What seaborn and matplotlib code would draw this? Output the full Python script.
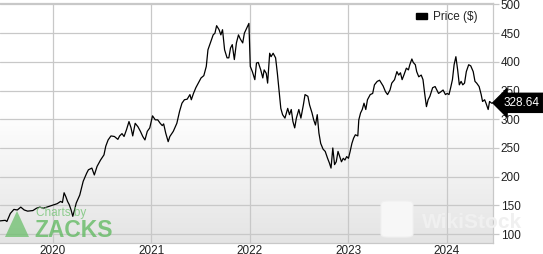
import numpy as np
import pandas as pd
import matplotlib
matplotlib.use("Agg")
import matplotlib.pyplot as plt
import matplotlib.transforms as mtransforms
from matplotlib.patches import Rectangle, Polygon, FancyBboxPatch
from matplotlib.colors import LinearSegmentedColormap
import seaborn as sns

# ---- data (decimal years, price in $) ----
years = [
    2019.465, 2019.518, 2019.535, 2019.570, 2019.606, 2019.641, 2019.676, 2019.711,
    2019.746, 2019.799, 2019.835, 2019.870, 2019.905, 2019.940, 2019.975, 2020.011,
    2020.046, 2020.081, 2020.099, 2020.116, 2020.134, 2020.151, 2020.169, 2020.187,
    2020.204, 2020.222, 2020.239, 2020.275, 2020.310, 2020.345, 2020.363, 2020.398,
    2020.423, 2020.451, 2020.486, 2020.521, 2020.539, 2020.563, 2020.592, 2020.627,
    2020.662, 2020.680, 2020.704, 2020.725, 2020.750, 2020.775, 2020.796, 2020.813,
    2020.838, 2020.866, 2020.891, 2020.915, 2020.937, 2020.961, 2020.986, 2021.014,
    2021.042, 2021.067, 2021.092, 2021.113, 2021.127, 2021.148, 2021.173, 2021.190,
    2021.225, 2021.261, 2021.289, 2021.313, 2021.338, 2021.366, 2021.394, 2021.408,
    2021.430, 2021.454, 2021.479, 2021.507, 2021.535, 2021.560, 2021.577, 2021.602,
    2021.630, 2021.648, 2021.665, 2021.690, 2021.708, 2021.725, 2021.746, 2021.771,
    2021.789, 2021.806, 2021.824, 2021.845, 2021.866, 2021.887, 2021.905, 2021.930,
    2021.947, 2021.972, 2021.993, 2022.007, 2022.028, 2022.053, 2022.070, 2022.088,
    2022.113, 2022.134, 2022.148, 2022.169, 2022.183, 2022.204, 2022.218, 2022.239,
    2022.264, 2022.282, 2022.299, 2022.317, 2022.335, 2022.359, 2022.387, 2022.405,
    2022.423, 2022.440, 2022.458, 2022.475, 2022.500, 2022.521, 2022.546, 2022.563,
    2022.592, 2022.609, 2022.634, 2022.651, 2022.669, 2022.687, 2022.704, 2022.722,
    2022.746, 2022.768, 2022.792, 2022.810, 2022.827, 2022.845, 2022.863, 2022.880,
    2022.898, 2022.915, 2022.933, 2022.951, 2022.968, 2022.986, 2023.004, 2023.021,
    2023.039, 2023.056, 2023.074, 2023.099, 2023.109, 2023.127, 2023.144, 2023.162,
    2023.180, 2023.197, 2023.225, 2023.250, 2023.268, 2023.296, 2023.320, 2023.338,
    2023.356, 2023.380, 2023.401, 2023.426, 2023.444, 2023.472, 2023.496, 2023.514,
    2023.532, 2023.549, 2023.567, 2023.592, 2023.613, 2023.627, 2023.648, 2023.662,
    2023.683, 2023.697, 2023.718, 2023.743, 2023.761, 2023.778, 2023.796, 2023.813,
    2023.831, 2023.859, 2023.884, 2023.901, 2023.919, 2023.944, 2023.965, 2023.989,
    2024.007, 2024.025, 2024.042, 2024.060, 2024.077, 2024.095, 2024.113, 2024.130,
    2024.148, 2024.165, 2024.183, 2024.201, 2024.225, 2024.246, 2024.271, 2024.289,
    2024.306, 2024.331, 2024.352, 2024.366, 2024.387, 2024.401, 2024.423, 2024.437,
    2024.458, 2024.472,
]
prices = [
    123, 124, 122, 136, 143, 142, 147, 142,
    140, 141, 145, 147, 145, 147, 149, 151,
    153, 157, 155, 172, 165, 157, 151, 142,
    131, 142, 154, 168, 192, 206, 212, 215,
    203, 218, 229, 238, 253, 264, 271, 270,
    265, 271, 275, 270, 282, 296, 285, 271,
    293, 287, 279, 270, 264, 279, 285, 306,
    299, 299, 293, 289, 292, 276, 261, 270,
    279, 293, 314, 328, 334, 335, 343, 334,
    345, 355, 363, 372, 376, 392, 421, 433,
    447, 450, 463, 456, 447, 456, 421, 407,
    407, 424, 430, 404, 433, 447, 440, 433,
    450, 459, 467, 392, 383, 369, 398, 399,
    386, 372, 386, 380, 363, 415, 409, 415,
    407, 380, 351, 319, 308, 302, 319, 308,
    317, 296, 285, 302, 317, 302, 325, 343,
    340, 325, 311, 299, 290, 308, 276, 258,
    248, 244, 232, 224, 215, 250, 221, 226,
    244, 235, 226, 232, 229, 235, 232, 244,
    258, 267, 273, 271, 299, 311, 317, 328,
    317, 334, 343, 345, 360, 366, 368, 363,
    358, 348, 343, 351, 363, 369, 383, 377,
    381, 369, 377, 389, 386, 395, 405, 399,
    395, 383, 374, 377, 369, 345, 322, 334,
    340, 355, 357, 351, 345, 348, 351, 343,
    345, 343, 355, 369, 395, 409, 386, 360,
    366, 360, 363, 383, 395, 393, 383, 366,
    363, 357, 343, 331, 334, 328, 317, 331,
    328, 328.64,
]
last_price = 328.64
year_ticks = [2020, 2021, 2022, 2023, 2024]
price_ticks = [100, 150, 200, 250, 300, 350, 400, 450, 500]
series_name = "Price ($)"

df = pd.DataFrame({"year": years, "price": prices})

sns.set_style("white")
plt.rcParams["font.family"] = ["Liberation Sans", "DejaVu Sans"]

W, H = 543, 254
fig = plt.figure(figsize=(W / 100, H / 100), dpi=100)
ax = fig.add_axes([0.0, 1 - 243 / H, 493 / W, (243 - 3.3) / H])

# gradient background
grad = np.linspace(0, 1, 256).reshape(-1, 1)
cmap = LinearSegmentedColormap.from_list("bg", [(0, "#e4e4e4"), (0.55, "#ffffff"), (1, "#ffffff")])
ax.imshow(grad, aspect="auto", cmap=cmap, extent=[0, 1, 1, 0],
          transform=ax.transAxes, zorder=0)

grid_c = "#c8c8c8"
sns.lineplot(data=df, x="year", y="price", ax=ax, color="black", linewidth=0.9,
             zorder=3, legend=False)

ax.set_xlim(2019.465, 2024.472)
ax.set_ylim(84.5, 502)
ax.set_xticks(year_ticks)
ax.set_xticklabels([str(y) for y in year_ticks])
ax.set_yticks(price_ticks)
ax.yaxis.tick_right()
ax.grid(True, color=grid_c, linewidth=0.9, zorder=1)
ax.set_axisbelow(True)
ax.set_xlabel("")
ax.set_ylabel("")
for s in ax.spines.values():
    s.set_color(grid_c)
    s.set_linewidth(0.9)
ax.spines["left"].set_visible(False)
ax.tick_params(axis="y", direction="out", length=4, width=0.9, color=grid_c,
               pad=1.5, labelsize=8.5, labelcolor="#222222")
ax.tick_params(axis="x", length=0, pad=1.5, labelsize=8.5, labelcolor="#222222")

# legend
handle = Rectangle((0, 0), 1, 1, fc="black", ec="black")
ax.legend([handle], [series_name], loc="upper right", frameon=False,
          fontsize=8.5, handlelength=1.0, handleheight=0.35,
          handletextpad=0.5, borderaxespad=0.25,
          bbox_to_anchor=(0.985, 1.0))

# last price tag
trans = mtransforms.blended_transform_factory(ax.transAxes, ax.transData)
ax.text(1.021, last_price, f"{last_price:.2f}", transform=trans, ha="left",
        va="center", color="white", fontsize=8.5, zorder=10, clip_on=False,
        bbox=dict(boxstyle="larrow,pad=0.3", fc="black", ec="black"))

# Zacks watermark
fig.patches.append(Polygon([[5 / W, 1 - 237 / H], [29 / W, 1 - 237 / H], [17 / W, 1 - 211 / H]],
                           closed=True, transform=fig.transFigure, fc="#6cbf6c",
                           ec="none", alpha=0.75, zorder=5))
fig.text(36 / W, 1 - 216 / H, "Charts by", color="#7cc77c", fontsize=8.5,
         alpha=0.85, ha="left", va="baseline", zorder=5)
fig.text(34 / W, 1 - 237 / H, "ZACKS", color="#5cb85c", fontsize=16.5,
         fontweight="bold", alpha=0.75, ha="left", va="baseline", zorder=5)

# WikiStock watermark
fig.patches.append(FancyBboxPatch((381 / W, 1 - 237 / H), 32 / W, 36 / H,
                                  boxstyle="round,pad=0,rounding_size=0.012",
                                  transform=fig.transFigure, fc="#f7f7f7",
                                  ec="#f0f0f0", lw=0.8, zorder=2))
fig.text(422 / W, 1 - 228 / H, "WikiStock", color="#f0f0f0", fontsize=15,
         fontweight="bold", ha="left", va="baseline", zorder=2)

fig.savefig("out.png", dpi=100)
